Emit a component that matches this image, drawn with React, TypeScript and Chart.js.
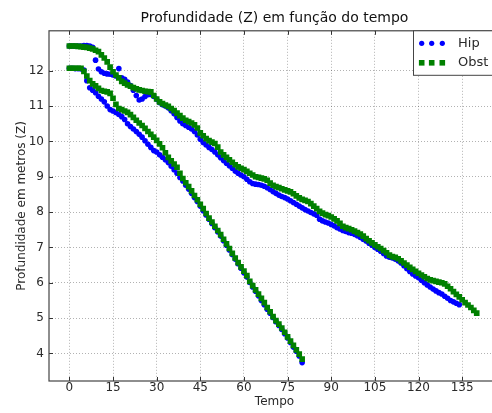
import React, { useEffect, useRef } from "react";
import { Chart, registerables } from "chart.js";

Chart.register(...registerables);

const TITLE = "Profundidade (Z) em função do tempo";
const X_LABEL = "Tempo";
const Y_LABEL = "Profundidade em metros (Z)";
const SERIES_NAMES = ["Hip", "Obst"];
const X_TICKS = [0, 15, 30, 45, 60, 75, 90, 105, 120, 135];
const Y_TICKS = [4, 5, 6, 7, 8, 9, 10, 11, 12];

// Run 1 (fast descent): one depth reading per time unit, starting at Tempo = 0
const HIP_1 = [
  12.07, 12.07, 12.06, 12.06, 12.05, 12.02, 11.72, 11.52, 11.45, 11.38,
  11.28, 11.2, 11.12, 11.0, 10.9, 10.86, 10.82, 10.76, 10.7, 10.62,
  10.5, 10.42, 10.35, 10.28, 10.2, 10.12, 10.02, 9.92, 9.83, 9.74,
  9.7, 9.62, 9.55, 9.48, 9.4, 9.3, 9.2, 9.1, 8.98, 8.88,
  8.76, 8.65, 8.53, 8.41, 8.3, 8.17, 8.04, 7.92, 7.8, 7.68,
  7.56, 7.44, 7.32, 7.19, 7.06, 6.93, 6.8, 6.67, 6.54, 6.41,
  6.28, 6.16, 6.01, 5.88, 5.76, 5.63, 5.5, 5.38, 5.25, 5.14,
  5.02, 4.9, 4.79, 4.68, 4.56, 4.44, 4.31, 4.18, 4.06, 3.93,
  3.74,
];
const OBST_1 = [
  12.07, 12.07, 12.07, 12.07, 12.07, 11.98, 11.85, 11.72, 11.63, 11.57,
  11.5, 11.44, 11.42, 11.4, 11.36, 11.22, 11.05, 10.93, 10.9, 10.86,
  10.82, 10.76, 10.68, 10.6, 10.52, 10.45, 10.37, 10.28, 10.2, 10.12,
  10.03, 9.93, 9.82, 9.68, 9.55, 9.45, 9.36, 9.27, 9.1, 8.95,
  8.83, 8.72, 8.6, 8.47, 8.35, 8.22, 8.1, 7.96, 7.83, 7.72,
  7.6, 7.48, 7.36, 7.23, 7.1, 6.97, 6.83, 6.7, 6.57, 6.45,
  6.33, 6.2, 6.04, 5.92, 5.8, 5.68, 5.56, 5.44, 5.3, 5.18,
  5.04, 4.93, 4.83, 4.72, 4.6, 4.47, 4.35, 4.23, 4.1, 3.98,
  3.84,
];

// Run 2 (slow descent): one depth reading per time unit, starting at Tempo = 0
const HIP_2 = [
  12.7, 12.7, 12.7, 12.7, 12.7, 12.71, 12.71, 12.7, 12.66, 12.3,
  12.05, 11.97, 11.93, 11.91, 11.9, 11.88, 11.85, 12.06, 11.8, 11.76,
  11.68, 11.58, 11.45, 11.3, 11.17, 11.2, 11.27, 11.32, 11.33, 11.28,
  11.19, 11.1, 11.04, 11.0, 10.95, 10.87, 10.78, 10.68, 10.58, 10.5,
  10.45, 10.4, 10.35, 10.28, 10.18, 10.06, 9.97, 9.9, 9.83, 9.77,
  9.7, 9.62, 9.54, 9.46, 9.38, 9.31, 9.24, 9.16, 9.1, 9.05,
  9.0, 8.93, 8.86, 8.81, 8.79, 8.78, 8.76, 8.73, 8.69, 8.64,
  8.58, 8.53, 8.48, 8.44, 8.41, 8.37, 8.32, 8.27, 8.22, 8.17,
  8.12, 8.07, 8.03, 7.99, 7.95, 7.91, 7.8, 7.75, 7.72, 7.69,
  7.65, 7.61, 7.56, 7.52, 7.48, 7.45, 7.42, 7.4, 7.37, 7.33,
  7.28, 7.23, 7.18, 7.12, 7.06, 7.0, 6.95, 6.89, 6.83, 6.76,
  6.72, 6.7, 6.67, 6.62, 6.56, 6.48, 6.4, 6.32, 6.25, 6.19,
  6.14, 6.07, 6.0, 5.94, 5.88, 5.82, 5.77, 5.72, 5.68, 5.62,
  5.56, 5.5, 5.46, 5.42, 5.38,
];
const OBST_2 = [
  12.7, 12.7, 12.7, 12.69, 12.68, 12.67, 12.66, 12.64, 12.62, 12.58,
  12.54, 12.45, 12.36, 12.25, 12.1, 11.97, 11.88, 11.8, 11.7, 11.65,
  11.6, 11.56, 11.52, 11.49, 11.46, 11.44, 11.42, 11.41, 11.4, 11.3,
  11.2, 11.12, 11.07, 11.03, 10.99, 10.93, 10.87, 10.8, 10.73, 10.66,
  10.6, 10.56, 10.52, 10.47, 10.38, 10.24, 10.16, 10.08, 10.02, 9.98,
  9.94, 9.84, 9.7, 9.62, 9.55, 9.48, 9.41, 9.34, 9.28, 9.24,
  9.2, 9.15, 9.1, 9.05, 9.0, 8.98, 8.96, 8.94, 8.9, 8.82,
  8.76, 8.72, 8.69, 8.66, 8.63, 8.6, 8.57, 8.52, 8.46, 8.4,
  8.36, 8.33, 8.3, 8.24, 8.17, 8.1, 8.02, 7.97, 7.93, 7.9,
  7.86, 7.81, 7.75, 7.68, 7.6, 7.56, 7.53, 7.5, 7.46, 7.42,
  7.38, 7.32, 7.25, 7.19, 7.13, 7.07, 7.02, 6.97, 6.91, 6.85,
  6.78, 6.74, 6.72, 6.68, 6.62, 6.56, 6.5, 6.44, 6.38, 6.32,
  6.27, 6.22, 6.17, 6.12, 6.08, 6.06, 6.04, 6.02, 6.0, 5.97,
  5.9, 5.83, 5.75, 5.67, 5.6, 5.52, 5.44, 5.37, 5.3, 5.22,
  5.14,
];

const FONT = "'DejaVu Sans', sans-serif";
const TEXT = "#2a2a2a";
const BLUE = "#0000ff";
const GREEN = "#008000";
const GRID = "rgba(0,0,0,0.3)";

const toPoints = (zs: number[]) => zs.map((z, t) => ({ x: t, y: z }));

const decorPlugin = {
  id: "decor",
  afterDatasetsDraw(chart: any) {
    const { ctx, chartArea: a, scales } = chart;
    const { x, y } = scales;
    ctx.save();
    ctx.strokeStyle = "#333";
    ctx.lineWidth = 1;
    ctx.beginPath();
    X_TICKS.forEach((v) => {
      const px = Math.round(x.getPixelForValue(v)) + 0.5;
      ctx.moveTo(px, a.bottom);
      ctx.lineTo(px, a.bottom - 4);
      ctx.moveTo(px, a.top);
      ctx.lineTo(px, a.top + 4);
    });
    Y_TICKS.forEach((v) => {
      const py = Math.round(y.getPixelForValue(v)) + 0.5;
      ctx.moveTo(a.left, py);
      ctx.lineTo(a.left + 4, py);
      ctx.moveTo(a.right, py);
      ctx.lineTo(a.right - 4, py);
    });
    ctx.stroke();
    ctx.strokeStyle = "#444";
    ctx.lineWidth = 1.2;
    ctx.strokeRect(a.left, a.top, a.right - a.left, a.bottom - a.top);
    ctx.restore();
  },
  afterDraw(chart: any) {
    const { ctx, chartArea: a } = chart;
    const bx = 413.5;
    const by = a.top;
    ctx.save();
    ctx.fillStyle = "#fff";
    ctx.strokeStyle = "#444";
    ctx.lineWidth = 1;
    ctx.fillRect(bx, by, 120, 44.5);
    ctx.strokeRect(bx, by, 120, 44.5);
    const mx = [421.7, 431.7, 442.3];
    const rows = [by + 12.5, by + 32];
    mx.forEach((px) => {
      ctx.fillStyle = BLUE;
      ctx.beginPath();
      ctx.arc(px, rows[0], 2.6, 0, Math.PI * 2);
      ctx.fill();
      ctx.fillStyle = GREEN;
      ctx.fillRect(px - 2.8, rows[1] - 2.8, 5.6, 5.6);
    });
    ctx.fillStyle = TEXT;
    ctx.font = `13px ${FONT}`;
    ctx.textBaseline = "middle";
    ctx.textAlign = "left";
    ctx.fillText(SERIES_NAMES[0], 458, rows[0]);
    ctx.fillText(SERIES_NAMES[1], 458, rows[1]);
    ctx.restore();
  },
};

export default function App() {
  const ref = useRef<HTMLCanvasElement | null>(null);
  useEffect(() => {
    document.documentElement.style.overflow = "hidden";
    document.body.style.overflow = "hidden";
    const canvas = ref.current;
    if (!canvas) return;
    const chart = new Chart(canvas, {
      type: "scatter",
      data: {
        datasets: [
          {
            label: SERIES_NAMES[1],
            data: [...toPoints(OBST_1), ...toPoints(OBST_2)],
            pointStyle: "rect",
            pointRadius: 4,
            backgroundColor: GREEN,
            borderWidth: 0,
            order: 1,
          },
          {
            label: SERIES_NAMES[0],
            data: [...toPoints(HIP_1), ...toPoints(HIP_2)],
            pointStyle: "circle",
            pointRadius: 2.8,
            backgroundColor: BLUE,
            borderWidth: 0,
            order: 2,
          },
        ],
      },
      options: {
        responsive: true,
        maintainAspectRatio: false,
        animation: false,
        events: [],
        layout: { padding: { left: 0, right: 20, top: 0, bottom: 0 } },
        plugins: {
          legend: { display: false },
          tooltip: { enabled: false },
          title: {
            display: true,
            text: TITLE,
            fullSize: false,
            color: "#111",
            font: { family: FONT, size: 14, weight: "normal" },
            padding: { top: 10, bottom: 4 },
          },
        },
        scales: {
          x: {
            type: "linear",
            min: -7,
            max: 148,
            bounds: "data",
            afterBuildTicks: (s: any) => {
              s.ticks = X_TICKS.map((v) => ({ value: v }));
            },
            afterFit: (s: any) => {
              s.height = 32;
            },
            grid: { color: GRID, lineWidth: 1, drawTicks: false },
            border: { display: false, dash: [1, 2] },
            ticks: {
              padding: 0,
              color: TEXT,
              autoSkip: false,
              maxRotation: 0,
              font: { family: FONT, size: 12 },
            },
            title: {
              display: true,
              text: X_LABEL,
              color: TEXT,
              font: { family: FONT, size: 12 },
              padding: { top: 0, bottom: 4 },
            },
          },
          y: {
            type: "linear",
            min: 3.22,
            max: 13.13,
            bounds: "data",
            afterBuildTicks: (s: any) => {
              s.ticks = Y_TICKS.map((v) => ({ value: v }));
            },
            afterFit: (s: any) => {
              s.width = 49;
            },
            grid: { color: GRID, lineWidth: 1, drawTicks: false },
            border: { display: false, dash: [1, 2] },
            ticks: {
              padding: 5,
              color: TEXT,
              font: { family: FONT, size: 12 },
            },
            title: {
              display: true,
              text: Y_LABEL,
              color: TEXT,
              font: { family: FONT, size: 12 },
              padding: { top: 15, bottom: 0 },
            },
          },
        },
      },
      plugins: [decorPlugin],
    });
    return () => chart.destroy();
  }, []);

  return (
    <div style={{ position: "fixed", left: 0, top: 0, width: 520, height: 413 }}>
      <canvas ref={ref} />
    </div>
  );
}
